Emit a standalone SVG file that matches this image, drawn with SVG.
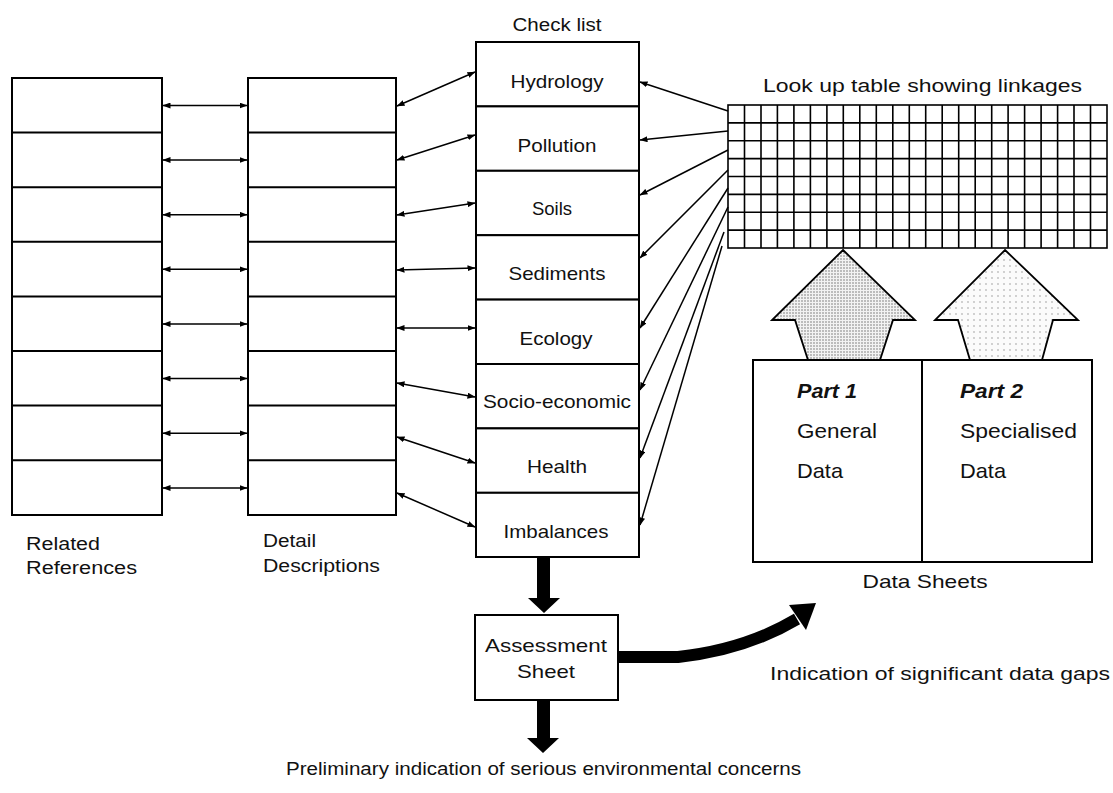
<svg xmlns="http://www.w3.org/2000/svg" width="1113" height="793" viewBox="0 0 1113 793">
<style>
  .box { fill: #fff; stroke: #000; stroke-width: 2; }
  .div { stroke: #000; stroke-width: 2; fill: none; }
  .t { font-family: "Liberation Sans", Arial, sans-serif; fill: #111; }
  .c { text-anchor: middle; }
  .ln { stroke: #000; stroke-width: 1.5; fill: none; }
  .grid { stroke: #000; stroke-width: 1.6; fill: none; }
  .thick { fill: #000; }
</style>
<defs>
  <marker id="ah" viewBox="0 0 8 6" refX="7.5" refY="3" markerWidth="8" markerHeight="6" markerUnits="userSpaceOnUse" orient="auto-start-reverse">
    <path d="M0,0 L8,3 L0,6 z" fill="#000"/>
  </marker>
  <pattern id="dots1" width="3" height="3" patternUnits="userSpaceOnUse">
    <rect width="3" height="3" fill="#f2f2f2"/>
    <circle cx="1" cy="1" r="0.8" fill="#777"/>
  </pattern>
  <pattern id="dots2" width="6" height="6" patternUnits="userSpaceOnUse">
    <rect width="6" height="6" fill="#fbfbfb"/>
    <circle cx="2" cy="2" r="0.7" fill="#888"/>
  </pattern>
</defs>

<rect width="1113" height="793" fill="#fff"/>

<!-- Related References column -->
<g id="related-references">
  <rect class="box" x="12" y="78" width="150" height="437"/>
  <path class="div" d="M12,132.6H162 M12,187.2H162 M12,241.8H162 M12,296.4H162 M12,351H162 M12,405.6H162 M12,460.2H162"/>
  <text class="t" x="26" y="550" font-size="17.5" textLength="74" lengthAdjust="spacingAndGlyphs">Related</text>
  <text class="t" x="26" y="574" font-size="17.5" textLength="111" lengthAdjust="spacingAndGlyphs">References</text>
</g>

<!-- Detail Descriptions column -->
<g id="detail-descriptions">
  <rect class="box" x="248" y="78" width="148" height="437"/>
  <path class="div" d="M248,132.6H396 M248,187.2H396 M248,241.8H396 M248,296.4H396 M248,351H396 M248,405.6H396 M248,460.2H396"/>
  <text class="t" x="263" y="547" font-size="17.5" textLength="53" lengthAdjust="spacingAndGlyphs">Detail</text>
  <text class="t" x="263" y="572" font-size="17.5" textLength="117" lengthAdjust="spacingAndGlyphs">Descriptions</text>
</g>

<!-- Check list -->
<g id="checklist">
  <text class="t c" x="557" y="31" font-size="18" textLength="89" lengthAdjust="spacingAndGlyphs">Check list</text>
  <g id="cl-hydrology"><rect class="box" x="476" y="42" width="163" height="64.4"/><text class="t c" x="557" y="88" font-size="18.5" textLength="93" lengthAdjust="spacingAndGlyphs">Hydrology</text></g>
  <g id="cl-pollution"><rect class="box" x="476" y="106.4" width="163" height="64.4"/><text class="t c" x="557" y="152" font-size="18.5" textLength="79" lengthAdjust="spacingAndGlyphs">Pollution</text></g>
  <g id="cl-soils"><rect class="box" x="476" y="170.8" width="163" height="64.4"/><text class="t c" x="552" y="215" font-size="18.5">Soils</text></g>
  <g id="cl-sediments"><rect class="box" x="476" y="235.2" width="163" height="64.4"/><text class="t c" x="557" y="280" font-size="18.5" textLength="97" lengthAdjust="spacingAndGlyphs">Sediments</text></g>
  <g id="cl-ecology"><rect class="box" x="476" y="299.6" width="163" height="64.4"/><text class="t c" x="556" y="345" font-size="18.5" textLength="73" lengthAdjust="spacingAndGlyphs">Ecology</text></g>
  <g id="cl-socio"><rect class="box" x="476" y="364" width="163" height="64.4"/><text class="t c" x="557" y="408" font-size="18.5" textLength="148" lengthAdjust="spacingAndGlyphs">Socio-economic</text></g>
  <g id="cl-health"><rect class="box" x="476" y="428.4" width="163" height="64.4"/><text class="t c" x="557" y="473" font-size="18.5" textLength="60" lengthAdjust="spacingAndGlyphs">Health</text></g>
  <g id="cl-imbalances"><rect class="box" x="476" y="492.8" width="163" height="64.2"/><text class="t c" x="556" y="538" font-size="18.5" textLength="105" lengthAdjust="spacingAndGlyphs">Imbalances</text></g>
</g>

<!-- Look up table -->
<g id="lookup-table">
  <text class="t" x="763" y="92" font-size="17.5" textLength="319" lengthAdjust="spacingAndGlyphs">Look up table showing linkages</text>
  <rect class="grid" x="728" y="105" width="379" height="143"/>
  <path class="grid" d="M744.5,105V248 M761,105V248 M777.4,105V248 M793.9,105V248 M810.4,105V248 M826.9,105V248 M843.3,105V248 M859.8,105V248 M876.3,105V248 M892.8,105V248 M909.3,105V248 M925.7,105V248 M942.2,105V248 M958.7,105V248 M975.2,105V248 M991.7,105V248 M1008.1,105V248 M1024.6,105V248 M1041.1,105V248 M1057.6,105V248 M1074,105V248 M1090.5,105V248"/>
  <path class="grid" d="M728,122.9H1107 M728,140.8H1107 M728,158.6H1107 M728,176.5H1107 M728,194.4H1107 M728,212.3H1107 M728,230.1H1107"/>
</g>

<!-- Big up arrows -->
<g id="arrow-part1">
  <polygon points="843,250 915,320 893,320 880,360 808,360 795,320 772,320" fill="url(#dots1)" stroke="#000" stroke-width="1.8" stroke-linejoin="miter"/>
</g>
<g id="arrow-part2">
  <polygon points="1005,250 1078,320 1053,320 1042,360 970,360 958,320 935,320" fill="url(#dots2)" stroke="#000" stroke-width="1.8" stroke-linejoin="miter"/>
</g>

<!-- Data Sheets -->
<g id="data-sheets">
  <rect class="box" x="753" y="360" width="339" height="202"/>
  <path class="div" d="M922,360V562"/>
  <text class="t" x="797" y="398" font-size="21" font-weight="bold" font-style="italic" textLength="60" lengthAdjust="spacingAndGlyphs">Part 1</text>
  <text class="t" x="797" y="438" font-size="21" textLength="80" lengthAdjust="spacingAndGlyphs">General</text>
  <text class="t" x="797" y="478" font-size="21" textLength="46" lengthAdjust="spacingAndGlyphs">Data</text>
  <text class="t" x="960" y="398" font-size="21" font-weight="bold" font-style="italic" textLength="63" lengthAdjust="spacingAndGlyphs">Part 2</text>
  <text class="t" x="960" y="438" font-size="21" textLength="117" lengthAdjust="spacingAndGlyphs">Specialised</text>
  <text class="t" x="960" y="478" font-size="21" textLength="46" lengthAdjust="spacingAndGlyphs">Data</text>
  <text class="t c" x="925" y="588" font-size="19" textLength="125" lengthAdjust="spacingAndGlyphs">Data Sheets</text>
</g>

<!-- Assessment Sheet -->
<g id="assessment-sheet">
  <rect class="box" x="475" y="615" width="143" height="85"/>
  <text class="t c" x="546" y="652" font-size="19" textLength="122" lengthAdjust="spacingAndGlyphs">Assessment</text>
  <text class="t c" x="546" y="678" font-size="19" textLength="58" lengthAdjust="spacingAndGlyphs">Sheet</text>
</g>

<!-- Output labels -->
<g id="label-data-gaps">
  <text class="t" x="770" y="680" font-size="17.5" textLength="340" lengthAdjust="spacingAndGlyphs">Indication of significant data gaps</text>
</g>
<g id="label-concerns">
  <text class="t" x="286" y="775" font-size="17.5" textLength="515" lengthAdjust="spacingAndGlyphs">Preliminary indication of serious environmental concerns</text>
</g>

<!-- Connectors -->
<g id="connectors">
  <!-- Related <-> Detail -->
  <g class="ln" marker-start="url(#ah)" marker-end="url(#ah)">
    <path d="M163,105.5H247"/>
    <path d="M163,160H247"/>
    <path d="M163,214.7H247"/>
    <path d="M163,269.3H247"/>
    <path d="M163,324H247"/>
    <path d="M163,378.5H247"/>
    <path d="M163,433.2H247"/>
    <path d="M163,488H247"/>
  </g>
  <!-- Detail <-> Checklist -->
  <g class="ln" marker-start="url(#ah)" marker-end="url(#ah)">
    <path d="M397,106L475,72"/>
    <path d="M397,160L475,135"/>
    <path d="M397,215L475,203"/>
    <path d="M397,270L475,268"/>
    <path d="M397,328L475,328"/>
    <path d="M397,383L475,397"/>
    <path d="M397,437L475,463"/>
    <path d="M397,493L475,527"/>
  </g>
  <!-- Look up table -> Checklist -->
  <g class="ln" marker-end="url(#ah)">
    <path d="M728,111L640,82"/>
    <path d="M728,131L640,140"/>
    <path d="M728,150L640,195"/>
    <path d="M728,170L640,258"/>
    <path d="M728,188L640,328"/>
    <path d="M728,207L640,390"/>
    <path d="M724,232L640,458"/>
    <path d="M722,246L640,525"/>
  </g>
  <!-- Thick arrows -->
  <polygon class="thick" points="537,557 550,557 550,598 560,598 544,613 528,598 537,598"/>
  <polygon class="thick" points="537,700 550,700 550,738 559,738 543,753 527,738 537,738"/>
  <path d="M618,657 L678,657 Q745,650 797,619" fill="none" stroke="#000" stroke-width="12"/>
  <polygon class="thick" points="789,605 816,603 806,630"/>
</g>
</svg>
